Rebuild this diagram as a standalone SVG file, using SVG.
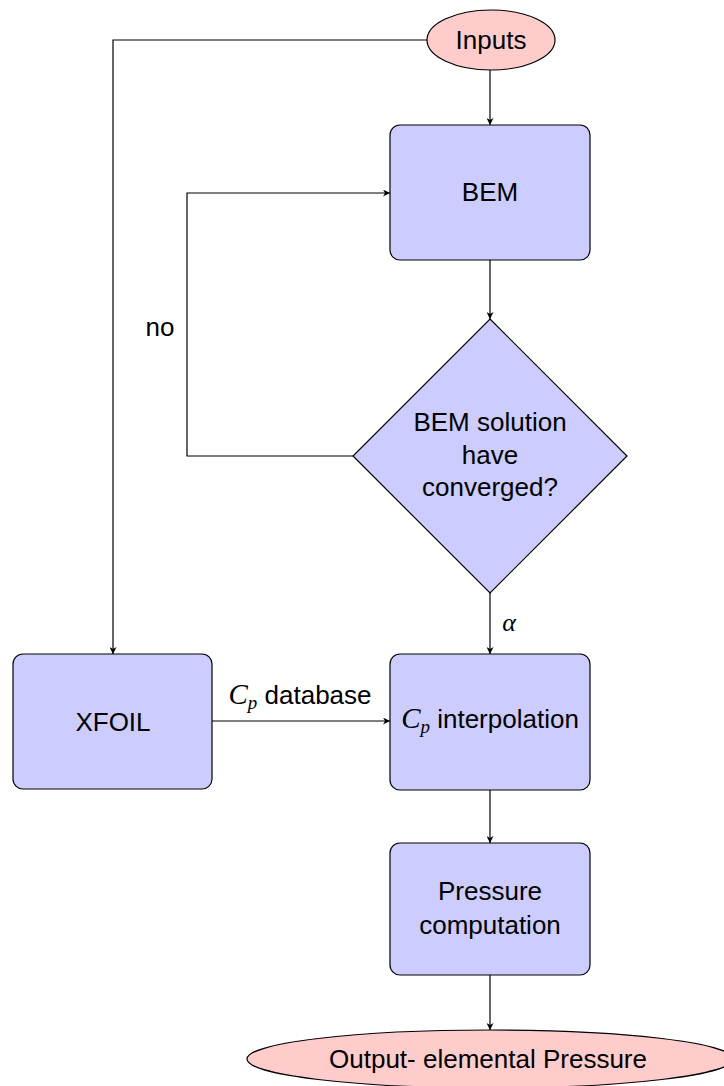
<svg xmlns="http://www.w3.org/2000/svg" width="724" height="1086" viewBox="0 0 724 1086">
  <defs>
    <marker id="arrow" viewBox="0 0 10 10" refX="10" refY="5" markerWidth="7" markerHeight="7" markerUnits="userSpaceOnUse" orient="auto">
      <path d="M0,0 L10,5 L0,10 L3,5 Z" fill="#000"/>
    </marker>
    <style>
      .box { fill: #ccccff; stroke: #000; stroke-width: 1.2; }
      .term { fill: #ffcccc; stroke: #000; stroke-width: 1.2; }
      .edge { fill: none; stroke: #000; stroke-width: 1.2; marker-end: url(#arrow); }
      .lbl { font-family: "Liberation Sans", Arial, sans-serif; font-size: 26px; fill: #000; text-anchor: middle; }
      .math { font-family: "Liberation Serif", "Times New Roman", serif; font-style: italic; }
    </style>
  </defs>

  <!-- connectors -->
  <g id="connectors">
    <path class="edge" d="M427,40 H113 V654"/>
    <path class="edge" d="M490,70 V125"/>
    <path class="edge" d="M490,260 V319"/>
    <path class="edge" d="M353,456 H187 V193 H390"/>
    <path class="edge" d="M490,593 V654"/>
    <path class="edge" d="M212,721 H390"/>
    <path class="edge" d="M490,790 V843"/>
    <path class="edge" d="M490,975 V1030"/>
    <text class="lbl" x="160" y="336">no</text>
    <text class="lbl math" x="509" y="631">α</text>
    <text class="lbl" x="300" y="704"><tspan class="math" font-size="29">C</tspan><tspan class="math" font-size="19" dy="5">p</tspan><tspan dy="-5"> database</tspan></text>
  </g>

  <g id="inputs">
    <ellipse class="term" cx="491" cy="40" rx="64" ry="30"/>
    <text class="lbl" x="491" y="49">Inputs</text>
  </g>

  <g id="bem">
    <rect class="box" x="390" y="125" width="200" height="135" rx="10"/>
    <text class="lbl" x="490" y="201">BEM</text>
  </g>

  <g id="converged">
    <polygon class="box" points="490,319 627,456 490,593 353,456"/>
    <text class="lbl" x="490" y="431">BEM solution</text>
    <text class="lbl" x="490" y="464">have</text>
    <text class="lbl" x="490" y="496">converged?</text>
  </g>

  <g id="xfoil">
    <rect class="box" x="13" y="654" width="199" height="135" rx="10"/>
    <text class="lbl" x="113" y="731">XFOIL</text>
  </g>

  <g id="interpolation">
    <rect class="box" x="390" y="654" width="200" height="136" rx="10"/>
    <text class="lbl" x="490" y="728"><tspan class="math" font-size="29">C</tspan><tspan class="math" font-size="19" dy="5">p</tspan><tspan dy="-5"> interpolation</tspan></text>
  </g>

  <g id="pressure">
    <rect class="box" x="390" y="843" width="200" height="132" rx="10"/>
    <text class="lbl" x="490" y="900">Pressure</text>
    <text class="lbl" x="490" y="934">computation</text>
  </g>

  <g id="output">
    <ellipse class="term" cx="490" cy="1059" rx="243" ry="29"/>
    <text class="lbl" x="488" y="1068">Output- elemental Pressure</text>
  </g>
</svg>
